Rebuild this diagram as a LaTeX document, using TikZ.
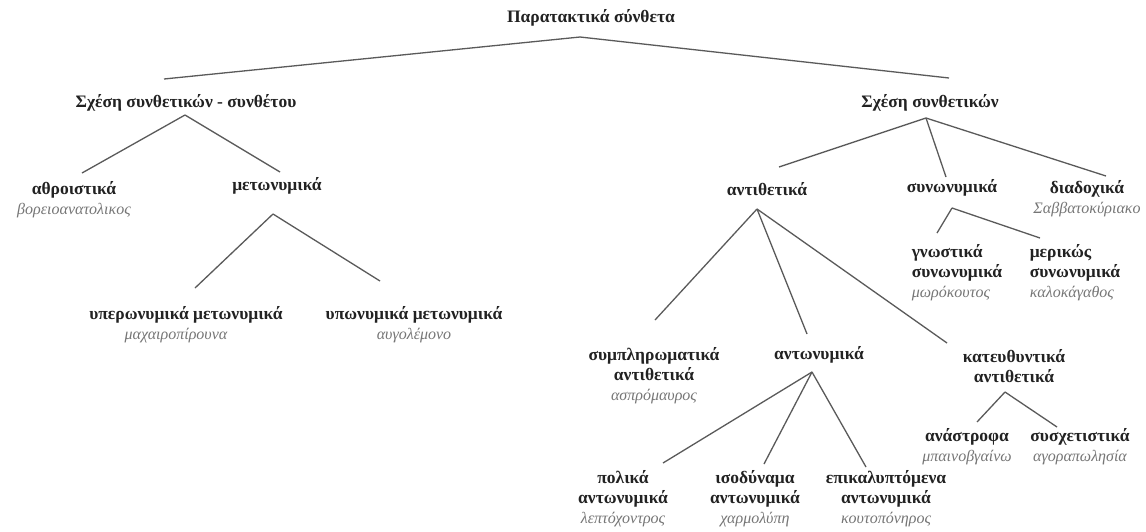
\documentclass[tikz,border=0pt]{standalone}
\usepackage{fontspec}
\setmainfont{Liberation Serif}
\usepackage{xcolor}
\usepackage{tikz}
\usetikzlibrary{positioning, calc}
\definecolor{inkdark}{HTML}{222222}
\definecolor{exgray}{HTML}{767676}
\definecolor{linegray}{HTML}{5A5A5A}
\newcommand{\xmp}[1]{{\mdseries\itshape\fontsize{16}{20}\selectfont\color{exgray}#1}}
\tikzset{
  cat/.style={align=center, font=\fontsize{17.5}{20}\selectfont\bfseries, text=inkdark, inner sep=1pt},
  catl/.style={cat, align=left},
  br/.style={line width=1.3pt, linegray},
}

\begin{document}
\begin{tikzpicture}[x=1pt, y=-1pt]
\useasboundingbox[fill=white] (0,0) rectangle (1146,531);
% top levels
\node[cat] (root) at (591,18) {Παρατακτικά σύνθετα};
\node[cat] (scs) at (186,103) {Σχέση συνθετικών - συνθέτου};
\node[cat] (sc) at (930,103) {Σχέση συνθετικών};
% left branch
\node[cat] (athr) at (74,200) {αθροιστικά\\\xmp{βορειοανατολικος}};
\node[cat] (meto) at (277,186) {μετωνυμικά};
\node[cat] (ypero) at (186,325) {υπερωνυμικά μετωνυμικά\\\xmp{μαχαιροπίρουνα}\hspace*{20pt}};
\node[cat] (ypo) at (414,325) {υπωνυμικά μετωνυμικά\\\xmp{αυγολέμονο}};
% right branch
\node[cat] (anti) at (767,189) {αντιθετικά};
\node[cat] (syno) at (952,188) {συνωνυμικά};
\node[cat] (diad) at (1087,199) {διαδοχικά\\\xmp{Σαββατοκύριακο}};
\node[catl] (gnos) at (957,273) {γνωστικά\\συνωνυμικά\\\xmp{μωρόκουτος}};
\node[catl] (meri) at (1075,273) {μερικώς\\συνωνυμικά\\\xmp{καλοκάγαθος}};
\node[cat] (symp) at (654,376) {συμπληρωματικά\\αντιθετικά\\\xmp{ασπρόμαυρος}};
\node[cat] (anto) at (819,355) {αντωνυμικά};
\node[cat] (kate) at (1014,366) {κατευθυντικά\\αντιθετικά};
\node[cat] (anas) at (967,447) {ανάστροφα\\\xmp{μπαινοβγαίνω}};
\node[cat] (sysx) at (1080,447) {συσχετιστικά\\\xmp{αγοραπωλησία}};
\node[cat] (poli) at (623,499) {πολικά\\αντωνυμικά\\\xmp{λεπτόχοντρος}};
\node[cat] (isod) at (755,499) {ισοδύναμα\\αντωνυμικά\\\xmp{χαρμολύπη}};
\node[cat] (epik) at (886,499) {επικαλυπτόμενα\\αντωνυμικά\\\xmp{κουτοπόνηρος}};
% branches
\draw[br] ($(root)+(-11,19)$) -- ($(scs)+(-22,-24)$);
\draw[br] ($(root)+(-11,19)$) -- ($(sc)+(19,-25)$);
\draw[br] ($(scs)+(-1,12)$) -- ($(athr)+(8,-27)$);
\draw[br] ($(scs)+(-1,12)$) -- ($(meto)+(3,-14)$);
\draw[br] ($(meto)+(-4,28)$) -- ($(ypero)+(9,-37)$);
\draw[br] ($(meto)+(-4,28)$) -- ($(ypo)+(-34,-44)$);
\draw[br] ($(sc)+(-4,15)$) -- ($(anti)+(12,-22)$);
\draw[br] ($(sc)+(-4,15)$) -- ($(syno)+(-6,-11)$);
\draw[br] ($(sc)+(-4,15)$) -- ($(diad)+(19,-23)$);
\draw[br] ($(syno)+(0,20)$) -- ($(gnos)+(-20,-40)$);
\draw[br] ($(syno)+(0,20)$) -- ($(meri)+(-35,-35)$);
\draw[br] ($(anti)+(-10,20)$) -- ($(symp)+(1,-56)$);
\draw[br] ($(anti)+(-10,20)$) -- ($(anto)+(-12,-21)$);
\draw[br] ($(anti)+(-10,20)$) -- ($(kate)+(-67,-23)$);
\draw[br] ($(anto)+(-7,17)$) -- ($(poli)+(40,-36)$);
\draw[br] ($(anto)+(-7,17)$) -- ($(isod)+(9,-35)$);
\draw[br] ($(anto)+(-7,17)$) -- ($(epik)+(-20,-32)$);
\draw[br] ($(kate)+(-9,26)$) -- ($(anas)+(10,-25)$);
\draw[br] ($(kate)+(-9,26)$) -- ($(sysx)+(-23,-20)$);
\end{tikzpicture}
\end{document}
